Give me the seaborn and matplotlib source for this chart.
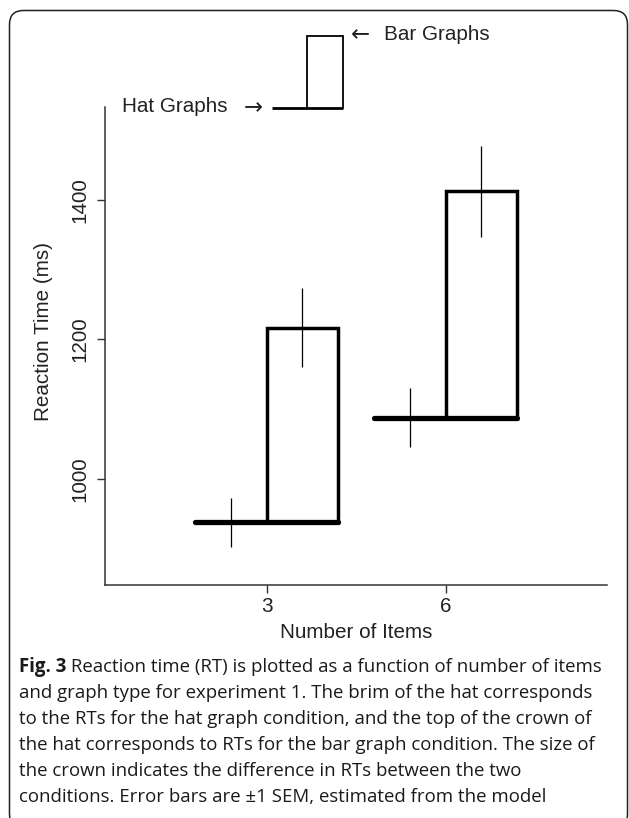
import numpy as np
import pandas as pd
import matplotlib
matplotlib.use("Agg")
import matplotlib.pyplot as plt
import seaborn as sns
from matplotlib.patches import FancyBboxPatch
from matplotlib.transforms import IdentityTransform

# ---------------- data ----------------
items = [3, 6]
hat_rt = [938, 1088]      # hat graph condition (brim)
hat_sem = [35, 42]
bar_rt = [1217, 1412]     # bar graph condition (crown top)
bar_sem = [57, 65]
x_ticks = [3, 6]
y_ticks = [1000, 1200, 1400]
x_label = "Number of Items"
y_label = "Reaction Time (ms)"
legend_hat = "Hat Graphs"
legend_bar = "Bar Graphs"
arrow_right = "\u2192"
arrow_left = "\u2190"
caption_bold = "Fig. 3"
caption_lines = [
    " Reaction time (RT) is plotted as a function of number of items",
    "and graph type for experiment 1. The brim of the hat corresponds",
    "to the RTs for the hat graph condition, and the top of the crown of",
    "the hat corresponds to RTs for the bar graph condition. The size of",
    "the crown indicates the difference in RTs between the two",
    "conditions. Error bars are \u00b11 SEM, estimated from the model",
]

df = pd.DataFrame({"items": items, "hat": hat_rt, "hat_sem": hat_sem,
                   "bar": bar_rt, "bar_sem": bar_sem})

# ---------------- style ----------------
sns.set_theme(style="ticks")
plt.rcParams["font.family"] = ["Liberation Sans", "DejaVu Sans"]
FS = 14.9
TXT = "#222222"
AX = "#333333"

W, H = 629, 818
fig = plt.figure(figsize=(W / 100, H / 100), dpi=100)
fig.patch.set_facecolor("white")

def fx(px):
    return px / W

def fy(py):
    return 1 - py / H

ax_l, ax_r, ax_t, ax_b = 105, 606.7, 107, 585
ax = fig.add_axes([fx(ax_l), fy(ax_b), fx(ax_r - ax_l), (ax_b - ax_t) / H])
ax.set_facecolor("white")

half = 1.2
xs = df["items"].to_numpy(dtype=float)

# crown (bar graph condition)
ax.bar(xs, df["bar"] - df["hat"], bottom=df["hat"], width=half, align="edge",
       fill=False, edgecolor="black", linewidth=2.5, zorder=2)
# brim (hat graph condition)
for x, h in zip(xs, df["hat"]):
    ax.plot([x - half, x + half], [h, h], color="black", lw=3.8,
            solid_capstyle="round", zorder=3)
# error bars
ax.vlines(xs - half / 2, df["hat"] - df["hat_sem"], df["hat"] + df["hat_sem"],
          color="black", lw=0.9, zorder=4)
ax.vlines(xs + half / 2, df["bar"] - df["bar_sem"], df["bar"] + df["bar_sem"],
          color="black", lw=0.9, zorder=4)

ax.set_xlim(0.29, 8.70)
ax.set_ylim(848, 1533)
ax.set_xticks(x_ticks)
ax.set_xticklabels([str(v) for v in x_ticks])
ax.set_yticks(y_ticks)
ax.set_yticklabels([str(v) for v in y_ticks], rotation=90, va="center")
ax.tick_params(axis="both", length=6, width=1.0, color=AX, labelsize=FS,
               labelcolor=TXT)
ax.tick_params(axis="y", pad=5)
ax.tick_params(axis="x", pad=3)
sns.despine(ax=ax)
for s in ("left", "bottom"):
    ax.spines[s].set_color(AX)
    ax.spines[s].set_linewidth(1.1)
ax.grid(False)

fig.text(fx(356), fy(633), x_label, ha="center", va="center", fontsize=FS,
         color=TXT)
fig.text(fx(44), fy(331), y_label, ha="center", va="center", rotation=90,
         fontsize=FS, color=TXT)

# ---------------- legend (drawn hat) ----------------
tr = ax.transAxes
def axx(px):
    return (px - ax_l) / (ax_r - ax_l)
def axy(py):
    return (ax_b - py) / (ax_b - ax_t)

ly_brim = axy(108)
ly_top = axy(35.7)
ax.plot([axx(307), axx(307), axx(343), axx(343)], [ly_brim, ly_top, ly_top, ly_brim],
        transform=tr, color="black", lw=1.3, clip_on=False,
        solid_joinstyle="miter")
ax.plot([axx(272), axx(343)], [ly_brim, ly_brim], transform=tr, color="black",
        lw=2.0, clip_on=False, solid_capstyle="butt")
ax.text(axx(122), axy(107), legend_hat, transform=tr,
        ha="left", va="center", fontsize=FS, color=TXT)
ax.text(axx(263), axy(108), arrow_right, transform=tr, family="DejaVu Sans",
        ha="right", va="center", fontsize=FS * 1.1, color=TXT)
ax.text(axx(351), axy(35), arrow_left, transform=tr, family="DejaVu Sans",
        ha="left", va="center", fontsize=FS * 1.1, color=TXT)
ax.text(axx(384), axy(34), legend_bar,
        transform=tr, ha="left", va="center", fontsize=FS, color=TXT)

# ---------------- frame ----------------
frame = FancyBboxPatch((9.5, -10.0), 618.0, 817.5,
                       boxstyle="round,pad=0,rounding_size=14",
                       transform=IdentityTransform(), fill=False,
                       edgecolor="#222222", linewidth=1.1)
fig.add_artist(frame)

# ---------------- caption ----------------
cap_font = ["Open Sans", "DejaVu Sans"]
fig.canvas.draw()
renderer = fig.canvas.get_renderer()

def line_width(fs):
    tb = fig.text(0, 0, caption_bold, fontsize=fs, weight="bold", family=cap_font)
    tr_ = fig.text(0, 0, caption_lines[0], fontsize=fs, family=cap_font)
    w = tb.get_window_extent(renderer).width + tr_.get_window_extent(renderer).width
    tb.remove(); tr_.remove()
    return w

cfs = 14.0
target = 603 - 19
for _ in range(3):
    cfs = cfs * target / line_width(cfs)

x0 = 19
y0 = 667
dy = 26
tb = fig.text(fx(x0), fy(y0), caption_bold, fontsize=cfs, weight="bold",
              family=cap_font, va="center", color="#1a1a1a")
bw = tb.get_window_extent(renderer).width
fig.text(fx(x0 + bw), fy(y0), caption_lines[0], fontsize=cfs, family=cap_font,
         va="center", color="#1a1a1a")
for i, line in enumerate(caption_lines[1:], start=1):
    fig.text(fx(x0), fy(y0 + i * dy), line, fontsize=cfs, family=cap_font,
             va="center", color="#1a1a1a")

fig.savefig("out.png", dpi=100, facecolor="white")
